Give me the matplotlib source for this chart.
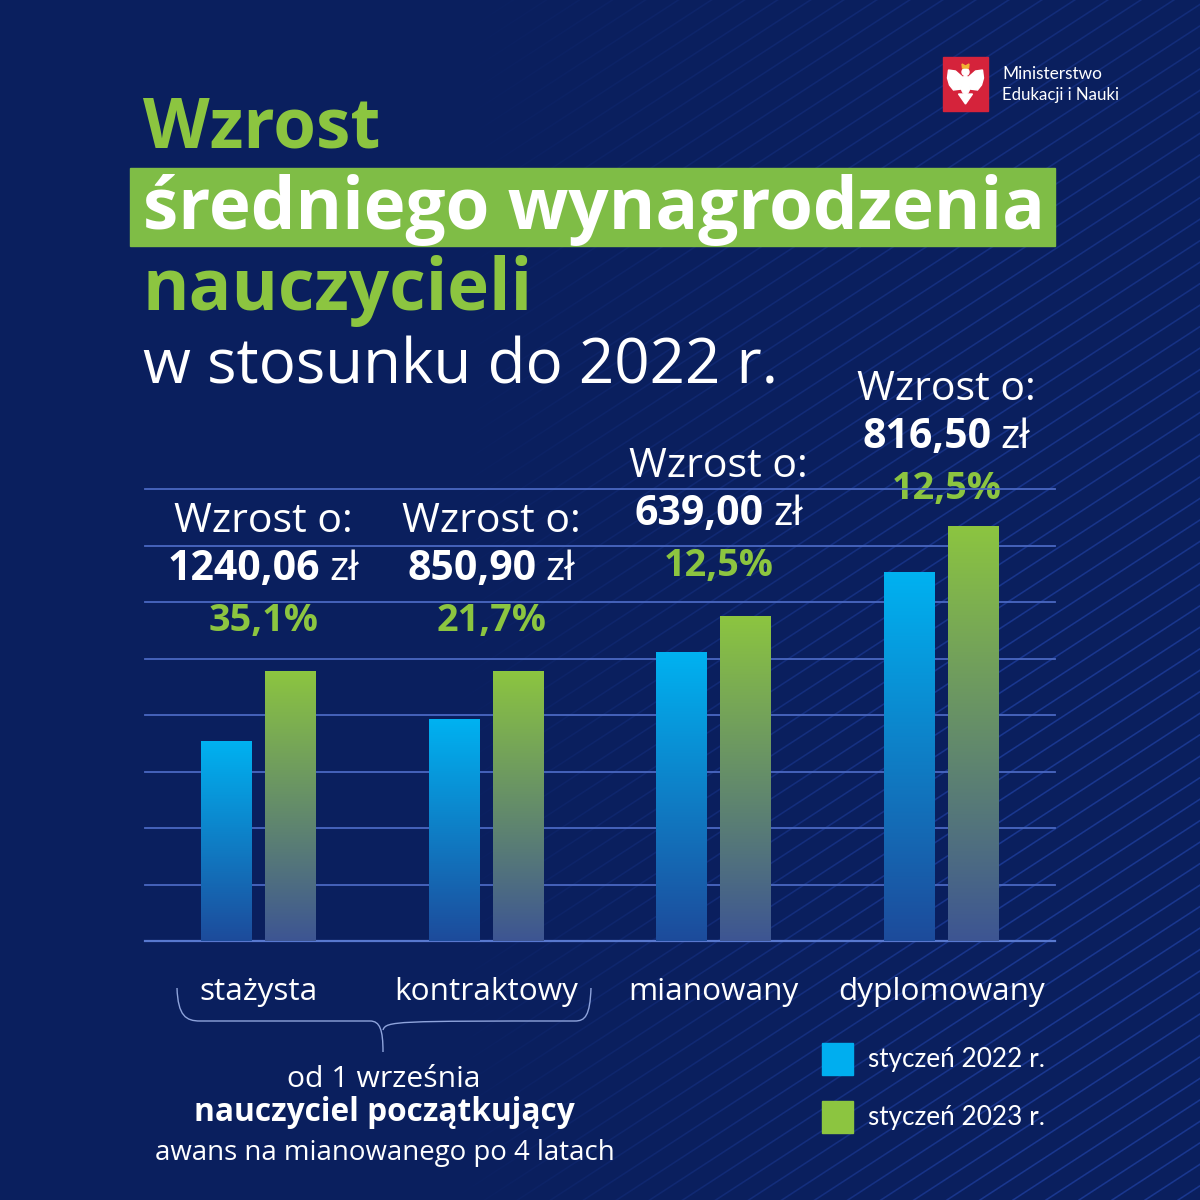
import numpy as np
import matplotlib
matplotlib.use('Agg')
import matplotlib.pyplot as plt
from matplotlib.colors import LinearSegmentedColormap, to_rgb
from matplotlib.patches import Rectangle, Polygon, Ellipse, Circle, PathPatch
from matplotlib.path import Path

# ---------------- data ----------------
categories = ['stażysta', 'kontraktowy', 'mianowany', 'dyplomowany']
salary_2022 = [3537.80, 3925.68, 5112.00, 6532.00]
salary_2023 = [4777.86, 4776.58, 5751.00, 7348.50]
increase_pln = ['1240,06', '850,90', '639,00', '816,50']
increase_pct = ['35,1%', '21,7%', '12,5%', '12,5%']
series_labels = ['styczeń 2022 r.', 'styczeń 2023 r.']
grid_values = [0, 1000, 2000, 3000, 4000, 5000, 6000, 7000, 8000]

# ---------------- style ----------------
BG = '#0a1f5e'
GREEN = '#8cc540'
BOX_GREEN = '#7fbd46'
BLUE = '#00aeef'
WHITE = '#ffffff'
GRID = '#4a68c2'
HEAD = 'Open Sans'
BODY = 'Lato'
label_shift = [0, 0, 0, 13]   # extra downward nudge (px) of the annotation block per group

fig = plt.figure(figsize=(12, 12), dpi=100)
fig.patch.set_facecolor(BG)

bg = fig.add_axes([0, 0, 1, 1])
bg.set_xlim(0, 1200)
bg.set_ylim(1200, 0)
bg.axis('off')

# background with diagonal stripes fading in toward the right
yy, xx = np.mgrid[0:1200, 0:1200].astype(float)
d = 0.545 * xx + 0.838 * yy
dist = np.abs((d % 18.0) - 9.0)
line = np.clip(1.3 - dist, 0, 1)
fade = np.clip((xx - 450) / 550, 0, 1) * np.clip(0.55 + yy / 1500, 0, 1)
base = np.array(to_rgb(BG))
stripe = np.array(to_rgb('#2447b0'))
amt = (line * fade * 0.6)[..., None]
img = base + (stripe - base) * amt
bg.imshow(img, extent=[0, 1200, 1200, 0], aspect='auto', zorder=0, interpolation='bilinear')
bg.set_xlim(0, 1200)
bg.set_ylim(1200, 0)

# ---------------- chart axes ----------------
ax = fig.add_axes([145 / 1200, 1 - 941 / 1200, 910 / 1200, 452 / 1200])
ax.set_facecolor('none')
for s in ax.spines.values():
    s.set_visible(False)
x = np.arange(len(categories))
bw = 0.224
off = 0.1405
XL = (-0.4985, 3.4985)
YL = (0, 8000)

for g in grid_values:
    ax.axhline(g, color=GRID if g else '#5878cf', lw=1.3 if g else 1.6, zorder=1, clip_on=False)


def gradient_bars(xs, vals, top_c, bot_c):
    bars = ax.bar(xs, vals, bw, color='none', edgecolor='none', zorder=3)
    cmap = LinearSegmentedColormap.from_list('g', [bot_c, top_c])
    grad = np.linspace(0, 1, 256).reshape(-1, 1)
    for r in bars:
        x0, w, h = r.get_x(), r.get_width(), r.get_height()
        im = ax.imshow(grad, extent=[x0, x0 + w, 0, h], origin='lower', aspect='auto',
                       cmap=cmap, zorder=3, interpolation='bilinear')
        im.set_clip_path(r)
    return bars


bars22 = gradient_bars(x - off, salary_2022, '#00b2f1', '#1d4b9b')
bars23 = gradient_bars(x + off, salary_2023, '#8cc540', '#3d5593')
ax.set_xlim(*XL)
ax.set_ylim(*YL)
ax.set_yticks([])
ax.set_xticks(x, categories)
ax.tick_params(axis='x', length=0, pad=26, labelsize=21, colors=WHITE)
for lab in ax.get_xticklabels():
    lab.set_fontfamily(HEAD)

# ---------------- titles ----------------
bg.add_patch(Rectangle((130, 168), 925, 78, color=BOX_GREEN, zorder=2))
t_w = bg.text(143, 148, 'Wzrost', color=GREEN, fontsize=48, fontweight='bold', family=HEAD, va='baseline', zorder=5)
t_s = bg.text(143, 229, 'średniego wynagrodzenia', color=WHITE, fontsize=48, fontweight='bold', family=HEAD, va='baseline', zorder=5)
t_n = bg.text(143, 310, 'nauczycieli', color=GREEN, fontsize=48, fontweight='bold', family=HEAD, va='baseline', zorder=5)
t_d = bg.text(143, 384, 'w stosunku do 2022 r.', color=WHITE, fontsize=40, family=HEAD, va='baseline', zorder=5)

# ---------------- logo ----------------
bg.add_patch(Rectangle((943, 57), 45, 54, color='#d5233b', zorder=3))
cx0, cy0 = 965.5, 84
wing = [(-2, -6), (-10, -13), (-17, -14), (-18, -6), (-16, 1), (-12, 6), (-4, 5)]
bg.add_patch(Polygon([(cx0 + a, cy0 + b) for a, b in wing], color=WHITE, zorder=4))
bg.add_patch(Polygon([(cx0 - a, cy0 + b) for a, b in wing], color=WHITE, zorder=4))
bg.add_patch(Ellipse((cx0, cy0 + 1), 9, 18, color=WHITE, zorder=4))
bg.add_patch(Circle((cx0, cy0 - 12), 3.5, color=WHITE, zorder=4))
bg.add_patch(Polygon([(cx0 - 7, cy0 + 10), (cx0 + 7, cy0 + 10), (cx0, cy0 + 20)], color=WHITE, zorder=4))
bg.add_patch(Polygon([(cx0 - 3, cy0 - 16), (cx0 + 3, cy0 - 16), (cx0 + 3.5, cy0 - 20), (cx0, cy0 - 18),
                      (cx0 - 3.5, cy0 - 20)], color='#f2b233', zorder=5))
t_m1 = bg.text(1002, 74, 'Ministerstwo', color=WHITE, fontsize=11, family=BODY, va='center', zorder=5)
t_m2 = bg.text(1002, 95, 'Edukacji i Nauki', color=WHITE, fontsize=11, family=BODY, va='center', zorder=5)

# ---------------- annotations above bars ----------------
to_bg = bg.transData.inverted()
ann_w, ann_num, ann_zl, ann_pct, centers = [], [], [], [], []
for i in range(len(categories)):
    gx = ax.transData.transform((x[i], 0))[0]
    top = ax.transData.transform((x[i] + off, salary_2023[i]))
    cx, ty = to_bg.transform((gx, top[1]))
    cx += 5
    ty += label_shift[i]
    centers.append((cx, ty))
    ann_w.append(bg.text(cx, ty - 139, 'Wzrost o:', color=WHITE, fontsize=26, family=HEAD,
                         ha='center', va='baseline', zorder=6))
    ann_num.append(bg.text(cx, ty - 91, increase_pln[i], color=WHITE, fontsize=26, fontweight='bold',
                           family=HEAD, ha='left', va='baseline', zorder=6))
    ann_zl.append(bg.text(cx, ty - 91, 'zł', color=WHITE, fontsize=26, family=HEAD,
                          ha='left', va='baseline', zorder=6))
    ann_pct.append(bg.text(cx, ty - 40, increase_pct[i], color=GREEN, fontsize=26, fontweight='bold',
                           family=HEAD, ha='center', va='baseline', zorder=6))

# ---------------- bracket and note ----------------
br = Path([(177, 988), (178, 1016), (186, 1021), (200, 1021),
           (370, 1021), (380, 1021), (383, 1030), (383, 1052),
           (383, 1030), (386, 1021), (396, 1021),
           (575, 1021), (585, 1021), (590, 1016), (591, 988)],
          [Path.MOVETO, Path.CURVE4, Path.CURVE4, Path.CURVE4,
           Path.LINETO, Path.CURVE4, Path.CURVE4, Path.CURVE4,
           Path.MOVETO, Path.CURVE4, Path.CURVE4,
           Path.LINETO, Path.CURVE4, Path.CURVE4, Path.CURVE4])
bg.add_patch(PathPatch(br, fill=False, edgecolor='#8fa4dc', lw=1.0, zorder=4))

t_o1 = bg.text(384, 1087, 'od 1 września', color=WHITE, fontsize=19, family=HEAD, ha='center', va='baseline', zorder=5)
t_o2 = bg.text(384, 1121, 'nauczyciel początkujący', color=WHITE, fontsize=19, fontweight='bold', family=HEAD,
               ha='center', va='baseline', zorder=5)
t_o3 = bg.text(385, 1160, 'awans na mianowanego po 4 latach', color=WHITE, fontsize=17, family=HEAD,
               ha='center', va='baseline', zorder=5)

# ---------------- legend ----------------
leg_colors = [BLUE, GREEN]
leg_texts = []
for j, (lab, col) in enumerate(zip(series_labels, leg_colors)):
    y0 = 1043 + j * 58
    bg.add_patch(Rectangle((822, y0), 31, 32, color=col, zorder=5))
    leg_texts.append(bg.text(868, y0 + 16, lab, color=WHITE, fontsize=17, family=BODY, va='center', zorder=5))

# ---------------- fit text widths to the reference ----------------
fig.canvas.draw()
r = fig.canvas.get_renderer()


def fit(t, target):
    w = t.get_window_extent(r).width
    t.set_fontsize(t.get_fontsize() * target / w)
    return t.get_fontsize()


fit(t_w, 237)
fit(t_s, 902)
fit(t_n, 390)
fit(t_d, 635)
fit(t_m1, 100)
fit(t_m2, 117)
fit(t_o1, 193)
fit(t_o2, 379)
fit(t_o3, 459)
sl = fit(leg_texts[0], 176)
leg_texts[1].set_fontsize(sl)
sw = fit(ann_w[0], 179)
sp = fit(ann_pct[0], 110)
for i in range(len(categories)):
    ann_w[i].set_fontsize(sw)
    ann_num[i].set_fontsize(sw)
    ann_zl[i].set_fontsize(sw)
    ann_pct[i].set_fontsize(sp)
lab0 = ax.get_xticklabels()[1]
w0 = lab0.get_window_extent(r).width
ax.tick_params(axis='x', labelsize=21 * 183 / w0)

fig.canvas.draw()
r = fig.canvas.get_renderer()
for i in range(len(categories)):
    w1 = ann_num[i].get_window_extent(r).width
    w2 = ann_zl[i].get_window_extent(r).width
    gap = 9
    tot = w1 + gap + w2
    cx, ty = centers[i]
    ann_num[i].set_x(cx - tot / 2)
    ann_zl[i].set_x(cx - tot / 2 + w1 + gap)

fig.savefig('out.png', dpi=100, facecolor=BG)
